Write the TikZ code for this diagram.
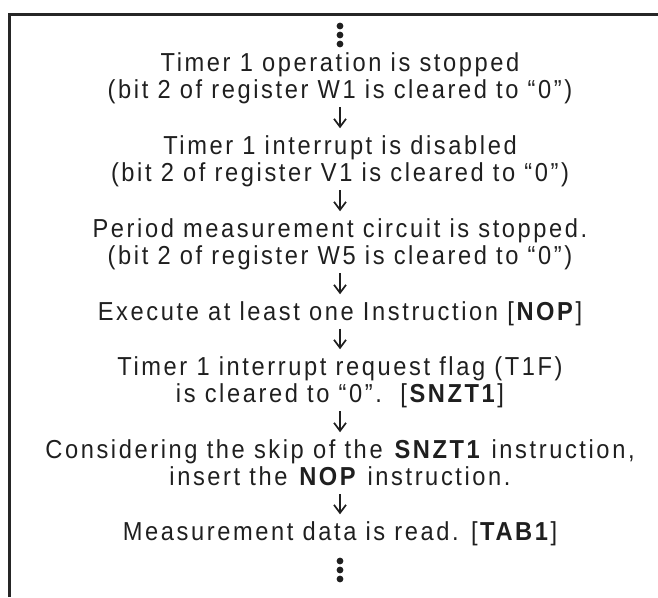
\documentclass[tikz,border=0pt]{standalone}
\usepackage{fontspec}
\setmainfont{Liberation Sans}[FakeStretch=0.91,LetterSpace=10]
\usetikzlibrary{arrows.meta}
\begin{document}
\begin{tikzpicture}[x=1pt,y=-1pt,
  stepbox/.style={align=center,inner sep=0pt,anchor=north,font=\fontsize{26}{27.5}\selectfont,text=black!88},
  arr/.style={-{Straight Barb[length=8pt,width=12pt,line width=1.7pt]},line width=1.7pt,black!88,shorten <=0pt,shorten >=6.5pt},
  dot/.style={fill=black!88}]
\useasboundingbox (0,0) rectangle (658,597);
\draw[line width=2.5pt,black!85] (9.5,597) -- (9.5,14.5) -- (660,14.5);
\fill[dot] (340,26) circle (3.4) (340,35) circle (3.4) (340,44) circle (3.4);
\node[stepbox] (s1) at (340,71-19.25) {\strut Timer 1 operation is stopped\\\strut(bit 2 of register W1 is cleared to “0”)};
\node[stepbox] (s2) at (340,154-19.25) {\strut Timer 1 interrupt is disabled\\\strut(bit 2 of register V1 is cleared to “0”)};
\node[stepbox] (s3) at (340,237-19.25) {\strut Period measurement circuit is stopped.\\\strut(bit 2 of register W5 is cleared to “0”)};
\node[stepbox] (s4) at (340,320-19.25) {\strut Execute at least one Instruction [\textbf{NOP}]};
\node[stepbox] (s5) at (340,375-19.25) {\strut Timer 1 interrupt request flag (T1F)\\\strut is cleared to “0”.\ \ [\textbf{SNZT1}]};
\node[stepbox] (s6) at (340,458-19.25) {\strut Considering the skip of the \textbf{SNZT1} instruction,\\\strut insert the \textbf{NOP} instruction.};
\node[stepbox] (s7) at (340,540-19.25) {\strut Measurement data is read. [\textbf{TAB1}]};
\fill[dot] (340,561) circle (3.4) (340,570) circle (3.4) (340,579) circle (3.4);
\draw[arr] (s1.south) -- (s2.north);
\draw[arr] (s2.south) -- (s3.north);
\draw[arr] (s3.south) -- (s4.north);
\draw[arr] (s4.south) -- (s5.north);
\draw[arr] (s5.south) -- (s6.north);
\draw[arr] (s6.south) -- (s7.north);
\end{tikzpicture}
\end{document}
